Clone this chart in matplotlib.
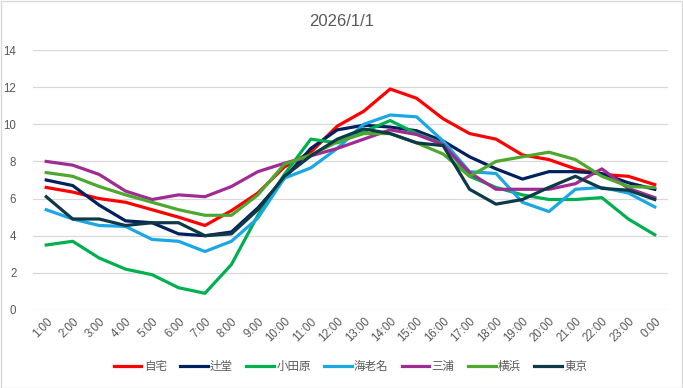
import matplotlib
matplotlib.use('Agg')
import matplotlib.pyplot as plt
from matplotlib.patches import Rectangle
import numpy as np

plt.rcParams['font.family'] = ['Liberation Sans', 'Noto Sans CJK JP', 'DejaVu Sans']

# データ
hours = ['1:00', '2:00', '3:00', '4:00', '5:00', '6:00', '7:00', '8:00', '9:00', '10:00',
         '11:00', '12:00', '13:00', '14:00', '15:00', '16:00', '17:00', '18:00', '19:00',
         '20:00', '21:00', '22:00', '23:00', '0:00']
jitaku = [6.6, 6.35, 6.0, 5.8, 5.4, 5.0, 4.55, 5.35, 6.3, 7.7, 8.5, 9.9,
          10.7, 11.9, 11.4, 10.3, 9.5, 9.2, 8.35, 8.1, 7.6, 7.3, 7.2, 6.75]
tsujido = [7.0, 6.7, 5.65, 4.8, 4.7, 4.1, 4.0, 4.2, 5.5, 7.1, 8.7, 9.7,
           9.95, 9.85, 9.65, 9.1, 8.25, 7.6, 7.05, 7.45, 7.45, 7.35, 6.85, 6.5]
odawara = [3.5, 3.7, 2.8, 2.2, 1.9, 1.2, 0.9, 2.45, 5.1, 7.3, 9.2, 9.0,
           9.6, 10.2, 9.5, 8.95, 7.2, 6.6, 6.2, 5.95, 5.95, 6.05, 4.9, 4.05]
ebina = [5.4, 4.9, 4.55, 4.5, 3.8, 3.7, 3.15, 3.7, 4.95, 7.1, 7.65, 8.7,
         10.0, 10.5, 10.4, 9.1, 7.45, 7.35, 5.8, 5.3, 6.5, 6.6, 6.3, 5.55]
miura = [8.0, 7.8, 7.3, 6.4, 5.95, 6.2, 6.1, 6.65, 7.45, 7.9, 8.3, 8.7,
         9.2, 9.7, 9.45, 8.9, 7.4, 6.5, 6.5, 6.5, 6.8, 7.6, 6.55, 6.05]
yokohama = [7.4, 7.2, 6.65, 6.2, 5.8, 5.4, 5.1, 5.1, 6.2, 7.85, 8.35, 9.05,
            9.5, 9.5, 9.0, 8.4, 7.2, 8.0, 8.25, 8.5, 8.1, 7.2, 6.65, 6.6]
tokyo = [6.1, 4.9, 4.9, 4.55, 4.7, 4.7, 4.0, 4.1, 5.4, 7.2, 8.3, 9.2,
         9.75, 9.5, 9.0, 8.85, 6.5, 5.7, 5.95, 6.6, 7.2, 6.55, 6.45, 5.95]

names = ['自宅', '辻堂', '小田原', '海老名', '三浦', '横浜', '東京']
series = [jitaku, tsujido, odawara, ebina, miura, yokohama, tokyo]
colors = ['#FF0000', '#002060', '#00B050', '#1AA7E3', '#A02B93', '#4EA72E', '#0E3A48']

fig = plt.figure(figsize=(6.83, 3.88), dpi=100)
ax = fig.add_axes([33/683, 1 - 310/388, 635/683, 260/388])

x = np.arange(len(hours))
for vals, name, c in zip(series, names, colors):
    ax.plot(x, vals, color=c, lw=2.3, label=name, solid_joinstyle='round')

ax.set_xlim(-0.5, len(hours) - 0.5)
ax.set_ylim(0, 14)
ax.set_yticks(range(0, 15, 2))
ax.set_xticks(x)
ax.set_xticklabels(hours, rotation=45, ha='right', va='top', rotation_mode='anchor')
ax.tick_params(axis='both', length=0, labelsize=8.3, colors='#595959')
ax.tick_params(axis='y', pad=12)
ax.tick_params(axis='x', pad=4)
ax.grid(axis='y', color='#D9D9D9', lw=0.9)
ax.set_axisbelow(True)
for s in ax.spines.values():
    s.set_visible(False)

fig.text(0.5, 1 - 21/388, '2026/1/1', ha='center', va='center', fontsize=12, color='#595959')

ax.legend(loc='center', bbox_to_anchor=(0.5, -(367 - 310)/260), ncol=7, frameon=False,
          fontsize=8.3, handlelength=2.4, columnspacing=1.15, handletextpad=0.2,
          labelcolor='#595959')

fig.patches.append(Rectangle((0.5/683, 0.5/388), 1 - 1.5/683, 1 - 1.5/388, transform=fig.transFigure,
                             fill=False, edgecolor='#D9D9D9', lw=1))

fig.savefig('out.png', dpi=100)
